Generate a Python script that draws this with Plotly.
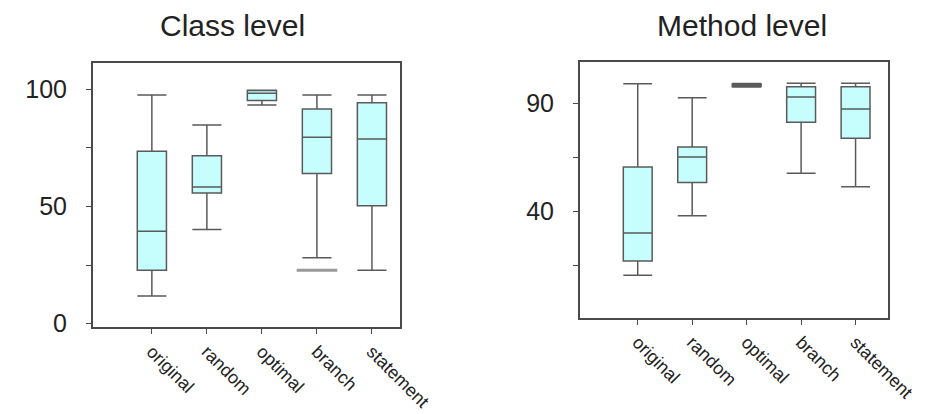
import plotly.graph_objects as go
from plotly.subplots import make_subplots

categories = ["original", "random", "optimal", "branch", "statement"]

# Class level box statistics
class_lower = [11.8, 40.2, 93.3, 28.1, 22.8]
class_q1 = [22.8, 55.8, 95.2, 64.1, 50.3]
class_median = [39.5, 58.3, 98.3, 79.6, 78.8]
class_q3 = [73.6, 71.7, 99.5, 91.6, 94.3]
class_upper = [97.6, 84.8, 99.6, 97.6, 97.6]
class_outlier_cat = ["branch"]
class_outlier_val = [22.8]

# Method level box statistics
method_lower = [10.5, 38.0, 97.6, 57.6, 51.4]
method_q1 = [17.0, 53.4, 97.8, 81.2, 73.8]
method_median = [30.0, 65.2, 98.8, 92.9, 87.4]
method_q3 = [60.5, 69.8, 99.0, 97.7, 97.7]
method_upper = [99.1, 92.6, 99.2, 99.3, 99.3]

class_ticks = [0, 25, 50, 75, 100]
class_ticktext = ["0", "", "50", "", "100"]
method_ticks = [15, 40, 65, 90]
method_ticktext = ["", "40", "", "90"]

FILL = "#c6fdfd"
LINE = "#5a5a5a"
FRAME = "#4a4a4a"
FONT = "Liberation Sans, Arial, sans-serif"

fig = make_subplots(rows=1, cols=2)

fig.add_trace(go.Box(
    x=categories, q1=class_q1, median=class_median, q3=class_q3,
    lowerfence=class_lower, upperfence=class_upper,
    fillcolor=FILL, line=dict(color=LINE, width=1.5), whiskerwidth=1,
    width=0.53, boxpoints=False, showlegend=False, hoverinfo="skip"), row=1, col=1)
fig.add_trace(go.Scatter(
    x=class_outlier_cat, y=class_outlier_val, mode="markers",
    marker=dict(symbol="line-ew", size=29, line=dict(color="#999999", width=3)),
    showlegend=False, hoverinfo="skip"), row=1, col=1)

fig.add_trace(go.Box(
    x=categories, q1=method_q1, median=method_median, q3=method_q3,
    lowerfence=method_lower, upperfence=method_upper,
    fillcolor=FILL, line=dict(color=LINE, width=1.5), whiskerwidth=1,
    width=0.53, boxpoints=False, showlegend=False, hoverinfo="skip"), row=1, col=2)

# page has an 8px body margin: figure is drawn 8px right/down of the window origin
OFF = 8
W, H = 941 - OFF, 414 - OFF
def dx(a, b):
    return [(a - OFF) / W, (b - OFF) / W]
def dy(top, bottom):
    return [1 - (bottom - OFF) / H, 1 - (top - OFF) / H]

axis_common = dict(showgrid=False, zeroline=False, showline=True, mirror=True,
                   linecolor=FRAME, linewidth=2, ticks="outside", ticklen=5,
                   tickcolor=FRAME, tickwidth=1, automargin=False)

fig.update_xaxes(**axis_common, tickangle=45,
                 tickfont=dict(family=FONT, size=18, color="#222222"))
fig.update_yaxes(**axis_common, tickfont=dict(family=FONT, size=25, color="#222222"),
                 ticklabelstandoff=14)

fig.update_layout(
    width=W, height=H, margin=dict(l=0, r=0, t=0, b=0, autoexpand=False),
    plot_bgcolor="white", paper_bgcolor="white",
    xaxis=dict(domain=dx(93, 400), range=[-1.07, 4.51], type="category"),
    xaxis2=dict(domain=dx(580, 887.7), range=[-1.06, 4.59], type="category"),
    yaxis=dict(domain=dy(63.3, 327), range=[-1.4, 111.1],
               tickvals=class_ticks, ticktext=class_ticktext),
    yaxis2=dict(domain=dy(62.3, 317.7), range=[-9.2, 109],
                tickvals=method_ticks, ticktext=method_ticktext),
    annotations=[
        dict(text="Class level", x=(232.5 - OFF) / W, y=1 - (25 - OFF) / H,
             xref="paper", yref="paper", showarrow=False,
             font=dict(family=FONT, size=30, color="#222222"),
             xanchor="center", yanchor="middle"),
        dict(text="Method level", x=(742 - OFF) / W, y=1 - (25 - OFF) / H,
             xref="paper", yref="paper", showarrow=False,
             font=dict(family=FONT, size=30, color="#222222"),
             xanchor="center", yanchor="middle"),
    ],
)

fig.write_html("out.html")
